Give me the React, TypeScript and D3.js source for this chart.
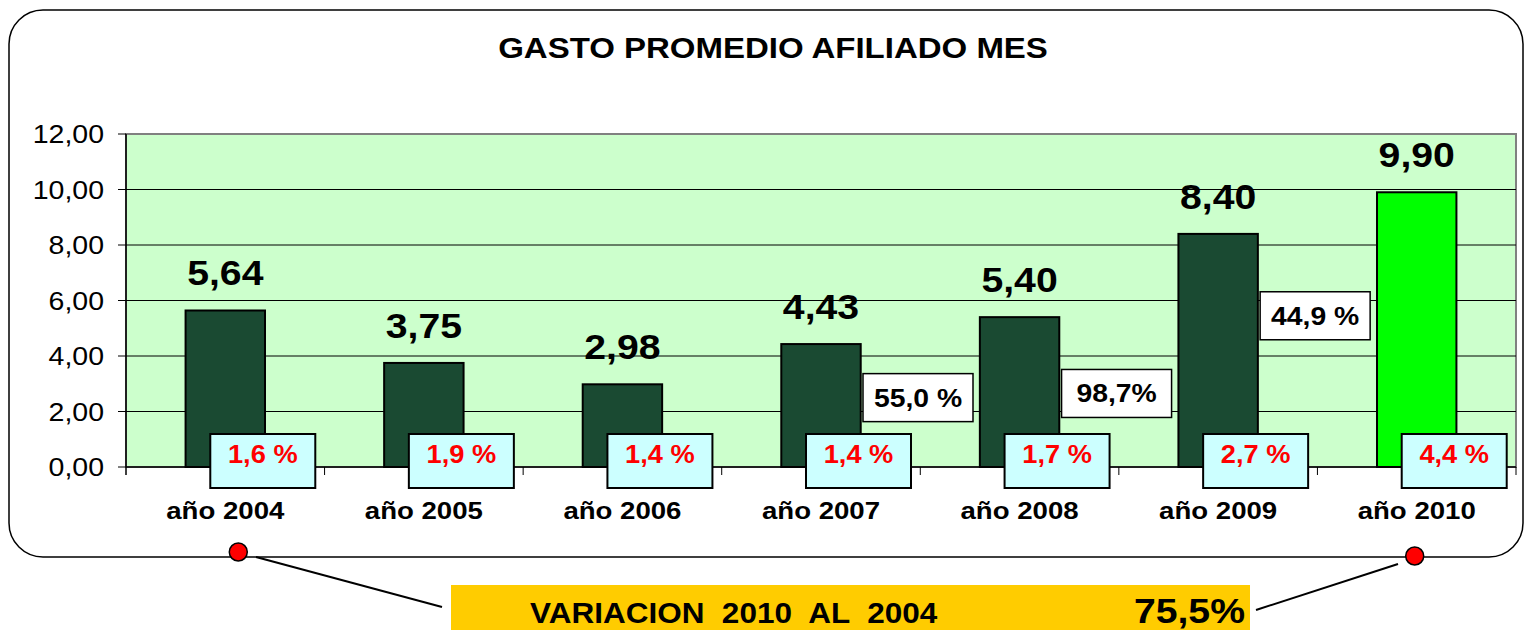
import React from 'react'
import * as d3 from 'd3'

const years = ['año 2004', 'año 2005', 'año 2006', 'año 2007', 'año 2008', 'año 2009', 'año 2010']
const gasto = [5.64, 3.75, 2.98, 4.43, 5.4, 8.4, 9.9]
const valueLabels = ['5,64', '3,75', '2,98', '4,43', '5,40', '8,40', '9,90']
const shareLabels = ['1,6 %', '1,9 %', '1,4 %', '1,4 %', '1,7 %', '2,7 %', '4,4 %']
const growthYears = ['año 2007', 'año 2008', 'año 2009']
const growthLabels = ['55,0 %', '98,7%', '44,9 %']
const yTicks = [0, 2, 4, 6, 8, 10, 12]

// layout (not data): vertical spot of the growth boxes, in axis units
const growthAt = [2.5, 2.65, 5.45]

const W = 1524
const H = 630
const plot = { left: 126, top: 134, right: 1516, bottom: 467 }
const FONT = 'Arial, "Liberation Sans", sans-serif'

const fmt = (v: number) => v.toFixed(2).replace('.', ',')

// text drawn a bit wider than the font, like the original picture
function T(props: { x: number; y: number; sx: number; size: number; anchor?: string; bold?: boolean; fill?: string; children: React.ReactNode }) {
  const { x, y, sx, size, anchor = 'middle', bold = true, fill = '#000', children } = props
  return (
    <text transform={`translate(${x},${y}) scale(${sx},1)`} textAnchor={anchor} fontSize={size}
      fontWeight={bold ? 'bold' : 'normal'} fill={fill} style={{ whiteSpace: 'pre' }}>
      {children}
    </text>
  )
}

export default function App() {
  const x = d3.scaleBand().domain(years).range([plot.left, plot.right])
  const y = d3.scaleLinear().domain([0, 12]).range([plot.bottom, plot.top])
  const barW = x.bandwidth() * 0.4
  const cx = (d: string) => (x(d) as number) + x.bandwidth() / 2

  return (
    <svg width={W} height={H} style={{ position: 'absolute', left: 0, top: 0 }} fontFamily={FONT}>
      <rect x={0} y={0} width={W} height={H} fill="#fff" />
      {/* chart frame */}
      <rect x={9} y={10} width={1514} height={547} rx={34} ry={34} fill="#fff" stroke="#000" strokeWidth={1.5} />

      <T x={773} y={58} sx={1.1} size={30}>GASTO PROMEDIO AFILIADO MES</T>

      {/* plot area */}
      <rect x={plot.left} y={plot.top} width={plot.right - plot.left} height={plot.bottom - plot.top}
        fill="#ccffcc" stroke="#808080" strokeWidth={2} />
      {yTicks.map(t => (
        <g key={t}>
          {t > 0 && t < 12 && <line x1={plot.left} x2={plot.right} y1={y(t)} y2={y(t)} stroke="#000" strokeWidth={1} />}
          <line x1={plot.left - 8} x2={plot.left} y1={y(t)} y2={y(t)} stroke="#000" strokeWidth={1} />
          <T x={104} y={y(t) + 9} sx={1.14} size={25} anchor="end" bold={false}>{fmt(t)}</T>
        </g>
      ))}
      <line x1={plot.left} x2={plot.left} y1={plot.top} y2={plot.bottom + 8} stroke="#000" strokeWidth={1.5} />
      <line x1={plot.left} x2={plot.right} y1={plot.bottom} y2={plot.bottom} stroke="#000" strokeWidth={1.5} />
      {years.map(d => (
        <line key={d} x1={(x(d) as number) + x.bandwidth()} x2={(x(d) as number) + x.bandwidth()}
          y1={plot.bottom} y2={plot.bottom + 8} stroke="#000" strokeWidth={1} />
      ))}

      {/* bars */}
      {years.map((d, i) => (
        <g key={d}>
          <rect x={cx(d) - barW / 2} y={y(gasto[i])} width={barW} height={y(0) - y(gasto[i])}
            fill={i === years.length - 1 ? '#00ff00' : '#1a4a32'} stroke="#000" strokeWidth={2} />
          <T x={cx(d)} y={y(gasto[i]) - 25} sx={1.12} size={35}>{valueLabels[i]}</T>
          <T x={cx(d)} y={519} sx={1.2} size={23}>{d}</T>
        </g>
      ))}

      {/* share boxes */}
      {years.map((d, i) => (
        <g key={'s' + d}>
          <rect x={cx(d) - 15} y={y(0) - 33} width={105} height={54} fill="#ccffff" stroke="#000" strokeWidth={2} />
          <T x={cx(d) + 37.5} y={y(0) - 4} sx={1.09} size={25} fill="#ff0000">{shareLabels[i]}</T>
        </g>
      ))}

      {/* growth boxes */}
      {growthYears.map((d, i) => (
        <g key={'g' + d}>
          <rect x={cx(d) + 42} y={y(growthAt[i]) - 24} width={110} height={48} fill="#fff" stroke="#000" strokeWidth={1.5} />
          <T x={cx(d) + 97} y={y(growthAt[i]) + 9} sx={1.09} size={26}>{growthLabels[i]}</T>
        </g>
      ))}

      {/* variation callout */}
      <line x1={256} y1={557} x2={442} y2={607} stroke="#000" strokeWidth={2} />
      <line x1={1256} y1={610} x2={1398} y2={564} stroke="#000" strokeWidth={2} />
      <circle cx={cx(years[0]) + 13} cy={552} r={9} fill="#ff0000" stroke="#000" strokeWidth={1.5} />
      <circle cx={cx(years[6]) - 2} cy={556} r={9} fill="#ff0000" stroke="#000" strokeWidth={1.5} />
      <rect x={451} y={585} width={799} height={50} fill="#ffcc00" />
      <T x={530} y={623} sx={1.05} size={30} anchor="start">{'VARIACION  2010  AL  2004'}</T>
      <T x={1245} y={623} sx={1.12} size={35} anchor="end">75,5%</T>
    </svg>
  )
}
